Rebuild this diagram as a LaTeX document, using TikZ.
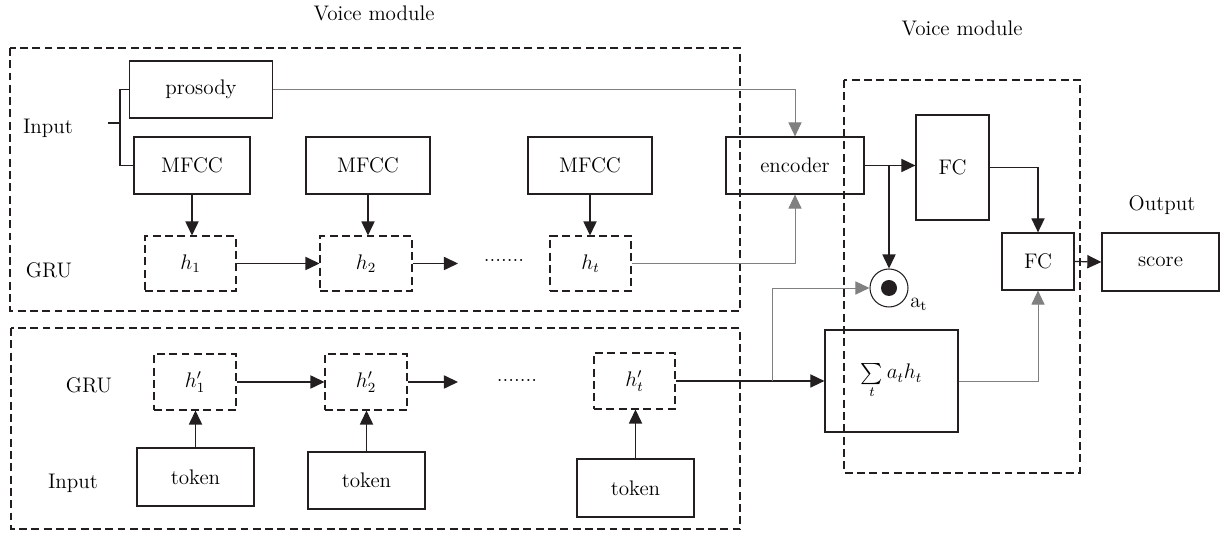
\documentclass[tikz,border=0pt]{standalone}
\usepackage{amsmath}
\usepackage{xcolor}
\definecolor{fig-ink}{HTML}{231F20}
\definecolor{fig-grey}{HTML}{808080}
\usetikzlibrary{arrows.meta,positioning,calc}

\begin{document}
\begin{tikzpicture}[
    font=\large,
    >={Triangle[length=8pt, width=7.5pt]},
    box/.style={draw=fig-ink, line width=0.7pt, minimum height=1.14cm, align=center, inner sep=2pt},
    state/.style={draw=fig-ink, line width=0.6pt, dash pattern=on 4.5pt off 2.5pt, minimum height=1.10cm, inner sep=2pt},
    frame/.style={draw=fig-ink, line width=0.6pt, dash pattern=on 4.5pt off 2.5pt},
    flow/.style={->, draw=fig-ink, line width=0.7pt},
    thinflow/.style={->, draw=fig-grey, line width=0.5pt},
]
\path[use as bounding box] (0,0) rectangle (24.50,10.66);

% frames
\draw[frame] (0.20,9.70) rectangle (14.80,4.44);
\draw[frame] (0.22,4.10) rectangle (14.80,0.08);
\draw[frame] (16.88,9.06) rectangle (21.60,1.20);

\node (ttop) at (7.48,10.40) {Voice module};
\node (tright) at (19.24,10.10) {Voice module};
\node (tout) at (23.24,6.56) {Output};

% voice row
\node (lin) at (0.96,8.10) {Input};
\node (lgru) at (0.98,5.26) {GRU};
\node[box, minimum width=2.86cm] (prosody) at (4.02,8.87) {prosody};
\node[box, minimum width=2.32cm] (mfcca) at (3.84,7.35) {MFCC};
\node[box, minimum width=2.48cm] (mfccb) at (7.36,7.35) {MFCC};
\node[box, minimum width=2.48cm] (mfccc) at (11.80,7.35) {MFCC};
\node[state, minimum width=1.82cm] (ha) at (3.81,5.39) {$h_1$};
\node[state, minimum width=1.84cm] (hb) at (7.32,5.39) {$h_2$};
\node[state, minimum width=1.62cm] (hc) at (11.81,5.39) {$h_t$};
\node (hdots) at (10.08,5.46) {.......};
\coordinate (hbend) at (9.16,5.39);
\coordinate (inbr) at (2.40,8.20);
\coordinate (instub) at (2.16,8.20);

% text row
\node (tgru) at (1.78,2.96) {GRU};
\node (tin) at (1.46,1.00) {Input};
\node[state, minimum width=1.64cm, minimum height=1.12cm] (hpa) at (3.90,3.02) {$h'_1$};
\node[state, minimum width=1.64cm, minimum height=1.12cm] (hpb) at (7.32,3.02) {$h'_2$};
\node[state, minimum width=1.62cm, minimum height=1.12cm] (hpc) at (12.69,3.04) {$h'_t$};
\node (hpdots) at (10.34,3.06) {.......};
\coordinate (hpbend) at (9.16,3.02);
\node[box, minimum width=2.34cm, minimum height=1.16cm] (toka) at (3.91,1.12) {token};
\node[box, minimum width=2.34cm] (tokb) at (7.33,1.05) {token};
\node[box, minimum width=2.34cm, minimum height=1.16cm] (tokc) at (12.71,0.90) {token};

% fusion
\node[box, minimum width=2.76cm] (encoder) at (15.90,7.35) {encoder};
\node[box, minimum width=1.46cm, minimum height=2.10cm] (fca) at (19.05,7.31) {FC};
\node[box, minimum width=1.44cm] (fcb) at (20.76,5.43) {FC};
\node[box, minimum width=2.34cm, minimum height=1.16cm] (score) at (23.21,5.42) {score};
\node[circle, draw=fig-ink, line width=0.6pt, minimum size=0.76cm, inner sep=0pt] (dot) at (17.78,4.90) {};
\fill[fig-ink] (dot.center) circle (0.16);
\node[anchor=west, inner sep=0pt] (alab) at (18.20,4.58) {a\textsubscript{t}};
\node[box, minimum width=2.66cm, minimum height=2.04cm] (sum) at (17.83,3.04)
    {$\sum\limits_{t} a_t h_t$};
\coordinate (split) at (15.44,3.04);

% input bracket
\draw[draw=fig-ink, line width=0.6pt] (prosody.west) -| (inbr) |- (mfcca.west);
\draw[draw=fig-ink, line width=0.6pt] (instub) -- (inbr);

\draw[flow] (mfcca.south) -- (mfcca.south |- ha.north);
\draw[flow] (mfccb.south) -- (mfccb.south |- hb.north);
\draw[flow] (mfccc.south) -- (mfccc.south |- hc.north);
\draw[flow] (ha.east) -- (hb.west);
\draw[flow] (hb.east) -- (hbend);
\draw[thinflow] (prosody.east) -| (encoder.north);
\draw[thinflow] (hc.east) -| (encoder.south);

\draw[flow] (toka.north) -- (toka.north |- hpa.south);
\draw[flow] (tokb.north) -- (tokb.north |- hpb.south);
\draw[flow] (tokc.north) -- (tokc.north |- hpc.south);
\draw[flow] (hpa.east) -- (hpb.west);
\draw[flow] (hpb.east) -- (hpbend);
\draw[flow] (hpc.east) -- (sum.west);
\draw[thinflow] (split) |- (dot.west);

\draw[flow] (encoder.east) -- (encoder.east -| fca.west);
\draw[flow] (dot.north |- encoder.east) -- (dot.north);
\draw[flow] (fca.east) -| (fcb.north);
\draw[flow] (fcb.east) -- (score.west);
\draw[thinflow] (sum.east) -| (fcb.south);
\end{tikzpicture}
\end{document}
